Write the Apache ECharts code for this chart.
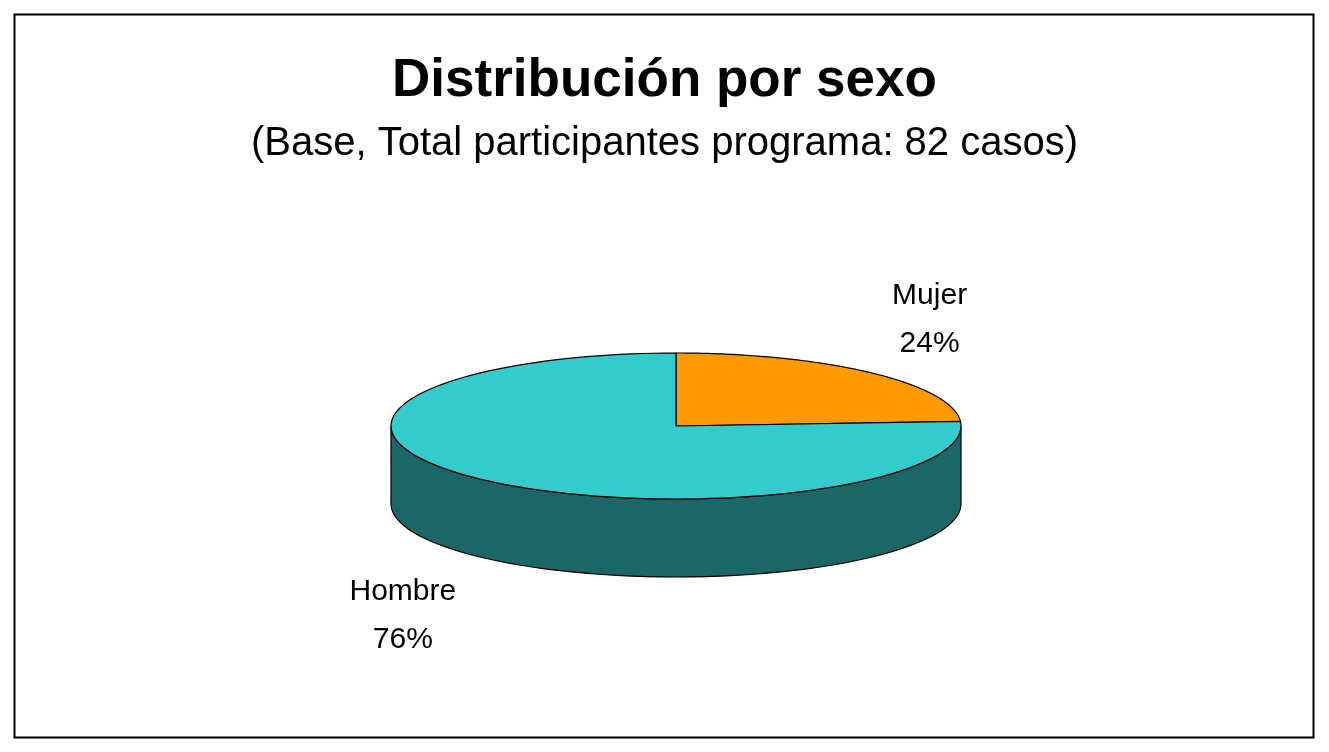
<!DOCTYPE html>
<html><head><meta charset="utf-8">
<script src="https://cdn.jsdelivr.net/npm/echarts@6/dist/echarts.min.js"></script>
<style>html,body{margin:0;padding:0;background:#fff}#c{width:1329px;height:752px}</style>
</head><body><div id="c"></div>
<script>
var categories = ["Mujer", "Hombre"];
var values = [24, 76];
var topColors = ["#ff9900", "#33cccc"];
var sideColors = ["#8a5200", "#1b6666"];

var total = values.reduce(function(a,b){return a+b;},0);
var chart = echarts.init(document.getElementById('c'));
var cx = 676, cy = 426, rx = 285, ry = 73, depth = 78;
function pt(a, dy){ return [cx + rx*Math.cos(a), cy - ry*Math.sin(a) + (dy||0)]; }

function renderItem(params, api){
  var idx = params.dataIndex;
  var before = 0; for (var i=0;i<idx;i++) before += values[i];
  var a0 = Math.PI/2 - before/total*2*Math.PI;
  var a1 = Math.PI/2 - (before+api.value(0))/total*2*Math.PI;
  var children = [];
  var s0 = a1, s1 = a0;
  var segs = [];
  for (var k=-2;k<=1;k++){
    var lo = Math.max(s0, -Math.PI + 2*Math.PI*k), hi = Math.min(s1, 2*Math.PI*k);
    if (hi > lo) segs.push([lo, hi]);
  }
  segs.forEach(function(sg){
    var ptsTop = [], ptsBot = [], n = 60;
    for (var j=0;j<=n;j++){ var a = sg[0] + (sg[1]-sg[0])*j/n; ptsTop.push(pt(a)); ptsBot.push(pt(a, depth)); }
    children.push({type:'polygon', shape:{points: ptsTop.concat(ptsBot.reverse())},
      style:{fill: sideColors[idx], stroke:'#000', lineWidth:1.2}});
  });
  var pts = [[cx, cy]], n = 120;
  for (var j=0;j<=n;j++){ pts.push(pt(a0 + (a1-a0)*j/n)); }
  children.push({type:'polygon', shape:{points: pts}, style:{fill: topColors[idx], stroke:'#000', lineWidth:1.2}});
  var am = (a0+a1)/2, s = Math.sin(am);
  var lx = cx + (s<0 ? 1.4 : 1.3)*rx*Math.cos(am), ly = cy - 1.3*ry*s + (s<0 ? depth+43 : -37);
  children.push({type:'text', style:{text: categories[idx] + '\n' + Math.round(api.value(0)/total*100) + '%',
    x: lx, y: ly, align:'center', verticalAlign:'middle', fontSize:30, lineHeight:48,
    fontFamily:'Liberation Sans, Arial', fill:'#000'}});
  return {type:'group', children: children};
}

chart.setOption({
  animation:false,
  title:{text:'Distribución por sexo', subtext:'(Base, Total participantes programa: 82 casos)',
    left:'center', top:50, itemGap:16,
    textStyle:{fontSize:53, fontWeight:'bold', fontFamily:'Liberation Sans, Arial', color:'#000'},
    subtextStyle:{fontSize:40, fontFamily:'Liberation Sans, Arial', color:'#000'}},
  graphic:[{type:'rect', shape:{x:14.5, y:14.5, width:1299, height:723}, style:{fill:'none', stroke:'#000', lineWidth:2}}],
  series:[{type:'custom', coordinateSystem:'none', renderItem: renderItem,
    data: values.map(function(v){return [v];})}]
});
</script></body></html>
